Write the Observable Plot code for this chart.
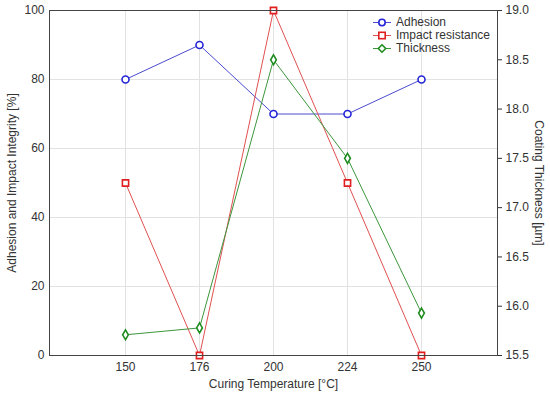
<!DOCTYPE html>
<html><head><meta charset="utf-8">
<script src="https://cdn.jsdelivr.net/npm/d3@7"></script>
<script src="https://cdn.jsdelivr.net/npm/@observablehq/plot@0.6"></script>
<style>
body{margin:0;background:#fff;}
#wrap{position:relative;width:550px;height:398px;font-family:"Liberation Sans",Arial,sans-serif;}
#legend{position:absolute;left:372px;top:16px;font-size:12px;color:#333;line-height:13px;}
#legend div{display:flex;align-items:center;height:13px;}
#legend svg{margin-right:4px;}
</style>
</head><body>
<div id="wrap"><div id="legend"></div></div>
<script>
const temps = ["150", "176", "200", "224", "250"];
const adhesion = [80, 90, 70, 70, 80];
const impact = [50, 0, 100, 50, 0];
const thickness = [15.71, 15.78, 18.5, 17.5, 15.93];
const leftTicks = [0, 20, 40, 60, 80, 100];
const rightTicks = [15.5, 16.0, 16.5, 17.0, 17.5, 18.0, 18.5, 19.0];
const seriesNames = ["Adhesion", "Impact resistance", "Thickness"];
const colors = {line: ["#4a4ad0", "#e05050", "#3c963c"], mark: ["#2424d8", "#e02020", "#1e8c1e"]};
const symbols = ["circle", "square", "diamond"];

const tMin = 15.5, tMax = 19.0;
const toLeft = t => (t - tMin) / (tMax - tMin) * 100;

const rows = [];
temps.forEach((t, i) => {
  rows.push({temp: t, s: 0, v: adhesion[i]});
  rows.push({temp: t, s: 1, v: impact[i]});
  rows.push({temp: t, s: 2, v: toLeft(thickness[i])});
});

const font = "Liberation Sans, Arial, sans-serif";
const txt = "#333";

const marks = [
  Plot.gridX(temps, {stroke: "#e2e2e2", strokeOpacity: 1}),
  Plot.gridY(leftTicks, {stroke: "#e2e2e2", strokeOpacity: 1}),
];
[0, 1, 2].forEach(s => {
  marks.push(Plot.line(rows.filter(d => d.s === s), {x: "temp", y: "v", stroke: colors.line[s], strokeWidth: 1}));
});
[0, 1, 2].forEach(s => {
  marks.push(Plot.dot(rows.filter(d => d.s === s), {x: "temp", y: "v", stroke: colors.mark[s], fill: "white", symbol: symbols[s], r: s === 2 ? 3 : 3.5, strokeWidth: 1.6}));
});
marks.push(
  Plot.frame({stroke: "#444", strokeWidth: 1}),
  Plot.axisY(leftTicks, {anchor: "left", tickSize: 0, tickPadding: 5, fontSize: 12, color: txt, label: null}),
  Plot.axisX(temps, {anchor: "bottom", tickSize: 0, tickPadding: 7, fontSize: 12, color: txt, label: null}),
  Plot.axisY(rightTicks, {anchor: "right", y: d => toLeft(d), text: d => d.toFixed(1), tickSize: 4, tickPadding: 4, fontSize: 12, color: txt, label: null}),
  Plot.text(["Adhesion and Impact Integrity [%]"], {frameAnchor: "left", dx: -37, rotate: -90, fontSize: 12, fill: txt, textAnchor: "middle"}),
  Plot.text(["Coating Thickness [µm]"], {frameAnchor: "right", dx: 41, rotate: 90, fontSize: 12, fill: txt, textAnchor: "middle"}),
  Plot.text(["Curing Temperature [°C]"], {frameAnchor: "bottom", dy: 32, fontSize: 12, fill: txt, textAnchor: "middle"})
);

const chart = Plot.plot({
  width: 550, height: 398,
  marginLeft: 49, marginRight: 53, marginTop: 10, marginBottom: 43,
  style: {fontFamily: font, fontSize: "12px", color: txt, background: "white"},
  x: {type: "point", domain: temps, padding: 1, axis: null},
  y: {domain: [0, 100], axis: null},
  marks
});
document.getElementById("wrap").prepend(chart);

const lg = document.getElementById("legend");
seriesNames.forEach((n, s) => {
  const div = document.createElement("div");
  let sym;
  if (s === 0) sym = `<circle cx="10" cy="6.5" r="3.2" fill="white" stroke="${colors.mark[s]}" stroke-width="1.6"/>`;
  else if (s === 1) sym = `<rect x="6.8" y="3.3" width="6.4" height="6.4" fill="white" stroke="${colors.mark[s]}" stroke-width="1.6"/>`;
  else sym = `<path d="M10 2.8 L13.7 6.5 L10 10.2 L6.3 6.5 Z" fill="white" stroke="${colors.mark[s]}" stroke-width="1.6"/>`;
  div.innerHTML = `<svg width="20" height="13"><line x1="1" x2="19" y1="6.5" y2="6.5" stroke="${colors.line[s]}" stroke-width="1"/>${sym}</svg><span>${n}</span>`;
  lg.appendChild(div);
});
</script>
</body></html>
